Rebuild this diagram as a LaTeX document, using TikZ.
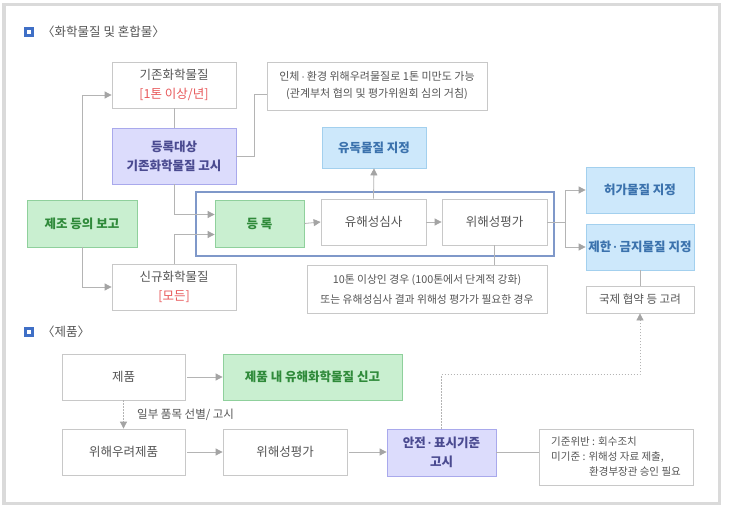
\documentclass[tikz,border=0pt]{standalone}
\usepackage{fontspec}
\setmainfont{Noto Sans CJK KR}
\newfontfamily\dotfont{Liberation Sans}
\newcommand{\md}{\,{\dotfont ·}\,}
\usetikzlibrary{arrows.meta}
\definecolor{frameout}{HTML}{DADADA}
\definecolor{boxline}{HTML}{C8C8C8}
\definecolor{txtgray}{HTML}{555555}
\definecolor{conn}{HTML}{B4B4B4}
\definecolor{tipgray}{HTML}{A4A4A4}
\definecolor{redtxt}{HTML}{E8585A}
\definecolor{grfill}{HTML}{C9EFD0}
\definecolor{grline}{HTML}{8FD09C}
\definecolor{grtxt}{HTML}{2F8A3A}
\definecolor{lvfill}{HTML}{DCDCFC}
\definecolor{lvline}{HTML}{A9A9EC}
\definecolor{lvtxt}{HTML}{4A4A90}
\definecolor{blfill}{HTML}{CDE8FB}
\definecolor{blline}{HTML}{A3D0EE}
\definecolor{bltxt}{HTML}{3B72AD}
\definecolor{bigframe}{HTML}{7F98C9}
\definecolor{marker}{HTML}{3F6FC6}
\begin{document}
\begin{tikzpicture}[x=1pt,y=-1pt,
  box/.style={draw=boxline, fill=white, line width=0.8pt, inner sep=0pt, align=center,
    text=txtgray, font=\fontsize{12.5}{19}\selectfont},
  notebox/.style={box, font=\fontsize{11}{17}\selectfont},
  grbox/.style={box, draw=grline, fill=grfill, text=grtxt, font=\fontsize{12.5}{19}\selectfont\bfseries},
  lvbox/.style={box, draw=lvline, fill=lvfill, text=lvtxt, font=\fontsize{12.5}{19}\selectfont\bfseries},
  blbox/.style={box, draw=blline, fill=blfill, text=bltxt, font=\fontsize{12.5}{19}\selectfont\bfseries},
  conline/.style={draw=conn, line width=0.8pt},
  arr/.style={conline, -{Triangle[length=7pt,width=7pt,color=tipgray]}},
  dotarr/.style={arr, dash pattern=on 1.5pt off 1.5pt},
  title/.style={inner sep=0pt, anchor=west, text=txtgray, font=\fontsize{12.5}{14}\selectfont},
]
\useasboundingbox (0,0) rectangle (729,508);
\fill[white] (0,0) rectangle (729,508);
\draw[frameout, line width=3.5pt] (4,4.5) rectangle (719.5,503.5);

% section markers
\fill[marker] (24,27) rectangle (34,37);
\fill[white] (27,30) rectangle (31,34);
\node[title] (t1) at (42,32) {〈화학물질 및 혼합물〉};
\fill[marker] (24,327) rectangle (34,337);
\fill[white] (27,330) rectangle (31,334);
\node[title] (t2) at (42,332) {〈제품〉};

% big blue frame
\draw[bigframe, line width=2.5pt] (196,192) rectangle (554,256);

% top section boxes
\node[box, minimum width=124pt, minimum height=46pt] (gij) at (174,85)
  {기존화학물질\\\textcolor{redtxt}{[1톤 이상/년]}};
\node[lvbox, minimum width=124pt, minimum height=56pt] (dr) at (174,156)
  {등록대상\\기존화학물질 고시};
\node[grbox, minimum width=110pt, minimum height=47pt] (jj) at (82,223.5) {제조 등의 보고};
\node[box, minimum width=124pt, minimum height=46pt] (sg) at (174,287)
  {신규화학물질\\\textcolor{redtxt}{[모든]}};
\node[grbox, minimum width=89pt, minimum height=47pt] (reg) at (259.5,223.5) {등 록};
\node[box, minimum width=105pt, minimum height=46pt] (ys) at (373.5,222) {유해성심사};
\node[box, minimum width=105pt, minimum height=46pt] (wh) at (494.5,222) {위해성평가};
\node[notebox, minimum width=240pt, minimum height=48pt, font=\fontsize{10.8}{20}\selectfont] (n10) at (427,289)
  {10톤 이상인 경우 (100톤에서 단계적 강화)\\또는 유해성심사 결과 위해성 평가가 필요한 경우};
\node[blbox, minimum width=104pt, minimum height=41pt] (yd) at (374,147.5) {유독물질 지정};
\node[notebox, minimum width=220pt, minimum height=48pt] (nA) at (377,86)
  {인체\md 환경 위해우려물질로 1톤 미만도 가능\\(관계부처 협의 및 평가위원회 심의 거침)};
\node[blbox, minimum width=108pt, minimum height=46pt] (hg) at (640,190) {허가물질 지정};
\node[blbox, minimum width=108pt, minimum height=46pt] (jh) at (640,247) {제한\md 금지물질 지정};
\node[box, minimum width=108pt, minimum height=27pt, font=\fontsize{11.5}{14}\selectfont] (gj) at (640,299.5) {국제 협약 등 고려};

% bottom section boxes
\node[box, minimum width=123pt, minimum height=46pt] (jp) at (123.5,377) {제품};
\node[grbox, minimum width=179pt, minimum height=46pt] (sg2) at (312.5,377) {제품 내 유해화학물질 신고};
\node[box, minimum width=123pt, minimum height=46pt] (wr) at (123.5,452) {위해우려제품};
\node[box, minimum width=124pt, minimum height=46pt] (wh2) at (285,452) {위해성평가};
\node[lvbox, minimum width=109pt, minimum height=47pt] (an) at (441.5,452.5) {안전\md 표시기준\\고시};
\node[box, minimum width=154pt, minimum height=56pt, align=left, font=\fontsize{10.5}{15}\selectfont] (nB) at (616,457)
  {기준위반 : 회수조치\\미기준 : 위해성 자료 제출,\\\hspace*{38pt}환경부장관 승인 필요};
\node[inner sep=0pt, anchor=west, text=txtgray, font=\fontsize{11.5}{14}\selectfont] (lbl) at (137,415) {일부 품목 선별/ 고시};

% connectors top
\coordinate (br) at (565,222);
\draw[arr] (jj.north) |- ([yshift=-10pt]gij.west);
\draw[arr] (jj.south) |- (sg.west);
\draw[conline] (gij.south) -- (dr.north);
\draw[arr] (dr.south) |- ([yshift=9pt]reg.west);
\draw[arr] (sg.north) |- ([yshift=-11pt]reg.west);
\draw[arr] (reg.east) -- (ys.west);
\draw[arr] (ys.east) -- (wh.west);
\draw[arr] (ys.north) -- (yd.south);
\draw[conline] (dr.east) -- ++(18,0) |- ([yshift=-8pt]nA.west);
\draw[conline] (wh.south) -- (wh.south |- n10.north);
\draw[conline] (wh.east) -- (br);
\draw[arr] (br) |- (hg.west);
\draw[arr] (br) |- (jh.west);
\draw[conline] (jh.south) -- (gj.north);

% connectors bottom
\draw[arr] ([xshift=2pt]jp.east) -- (sg2.west);
\draw[dotarr] (jp.south) -- (wr.north);
\draw[arr] ([xshift=2pt]wr.east) -- (wh2.west);
\draw[arr] ([xshift=2pt]wh2.east) -- (wh2.east -| an.west);
\draw[conline] (an.east) -- (an.east -| nB.west);
\draw[dotarr] (an.north) -- ++(0,-54) -| (gj.south);
\end{tikzpicture}
\end{document}
